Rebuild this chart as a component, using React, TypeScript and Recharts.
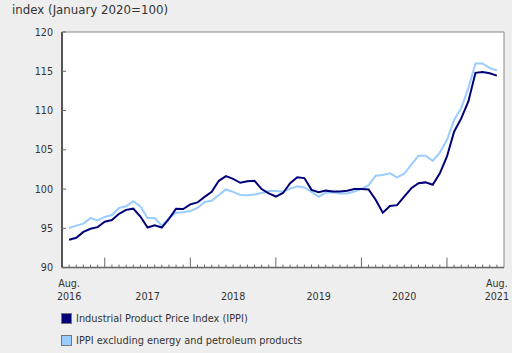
import { LineChart, Line, XAxis, YAxis, ReferenceArea } from "recharts";

// monthly index values, Aug 2016 .. Aug 2021 (January 2020 = 100)
const ippi = [
  93.55, 93.8, 94.55, 94.95, 95.15, 95.85, 96.05, 96.85, 97.35, 97.5,
  96.5, 95.1, 95.4, 95.1, 96.2, 97.5, 97.45, 98.05, 98.3, 99.0,
  99.65, 101.05, 101.65, 101.3, 100.8, 101.0, 101.05, 100.0, 99.45, 99.05,
  99.5, 100.75, 101.5, 101.4, 99.9, 99.6, 99.8, 99.7, 99.7, 99.8,
  100.0, 100.0, 99.95, 98.65, 97.0, 97.85, 97.95, 99.05, 100.1, 100.75,
  100.85, 100.55, 102.0, 104.15, 107.3, 109.0, 111.15, 114.8, 114.9, 114.75,
  114.45,
];

const ippiExEnergy = [
  95.05, 95.35, 95.6, 96.3, 96.0, 96.45, 96.7, 97.6, 97.8, 98.45,
  97.8, 96.3, 96.3, 95.35, 96.3, 97.0, 97.05, 97.2, 97.6, 98.35,
  98.5, 99.25, 99.95, 99.65, 99.25, 99.2, 99.3, 99.5, 99.75, 99.75,
  99.65, 100.05, 100.35, 100.2, 99.65, 99.0, 99.55, 99.55, 99.45, 99.45,
  99.7, 100.0, 100.5, 101.7, 101.8, 102.0, 101.5, 101.95, 103.1, 104.25,
  104.25, 103.6, 104.65, 106.25, 108.8, 110.3, 112.85, 116.0, 116.0, 115.4,
  115.1,
];

const yTicks = [90, 95, 100, 105, 110, 115, 120];
// month indexes of each January (major ticks)
const januaries = [5, 17, 29, 41, 53];
// x labels: month index -> text
const xLabels = [
  { idx: 0, top: "Aug.", year: "2016" },
  { idx: 11, top: "", year: "2017" },
  { idx: 23, top: "", year: "2018" },
  { idx: 35, top: "", year: "2019" },
  { idx: 47, top: "", year: "2020" },
  { idx: 60, top: "Aug.", year: "2021" },
];

const series = [
  { key: "ippi", name: "Industrial Product Price Index (IPPI)", color: "#000078" },
  { key: "core", name: "IPPI excluding energy and petroleum products", color: "#99ccff" },
];

const data = ippi.map((v, i) => ({ m: i, ippi: v, core: ippiExEnergy[i] }));
const xTicks = data.map((d) => d.m);

const FONT = "'DejaVu Sans', Verdana, sans-serif";
const TEXT = "#333333";

const XTick = (props: any) => {
  const { x, y, payload } = props;
  const i = payload.value;
  const lab = xLabels.find((l) => l.idx === i);
  const len = januaries.includes(i) ? 10 : 3;
  return (
    <g>
      <line x1={x} x2={x} y1={y} y2={y - len} stroke="#666" strokeWidth={1} />
      {lab && lab.top && (
        <text x={x} y={y + 19} textAnchor="middle" fontSize={9.6} fill={TEXT} fontFamily={FONT}>
          {lab.top}
        </text>
      )}
      {lab && (
        <text x={x} y={y + 32.5} textAnchor="middle" fontSize={9.6} fill={TEXT} fontFamily={FONT}>
          {lab.year}
        </text>
      )}
    </g>
  );
};

const YTick = (props: any) => {
  const { x, y, payload } = props;
  return (
    <g>
      <line x1={x} x2={x + 4} y1={y} y2={y} stroke="#666" strokeWidth={1} />
      <text x={x - 9} y={y + 3.5} textAnchor="end" fontSize={9.6} fill={TEXT} fontFamily={FONT}>
        {payload.value}
      </text>
    </g>
  );
};

export default function App() {
  return (
    <div
      style={{
        position: "absolute",
        left: 0,
        top: 0,
        width: 512,
        height: 353,
        background: "#eeeeee",
        fontFamily: FONT,
        color: TEXT,
        overflow: "hidden",
      }}
    >
      <div style={{ position: "absolute", left: 12, top: 2, fontSize: 11.8, lineHeight: "16px" }}>
        index (January 2020=100)
      </div>
      <LineChart
        width={512}
        height={353}
        data={data}
        margin={{ top: 32, right: 8, left: 0, bottom: 45.4 }}
      >
        <ReferenceArea x1={-1} x2={61} y1={90} y2={120} fill="#ffffff" fillOpacity={1} stroke="#888" strokeWidth={1} />
        <XAxis
          dataKey="m"
          type="number"
          domain={[-1, 61]}
          ticks={xTicks}
          interval={0}
          height={40}
          tickSize={0}
          tickMargin={0}
          tickLine={false}
          axisLine={{ stroke: "#666", strokeWidth: 1.5 }}
          tick={<XTick />}
        />
        <YAxis
          domain={[90, 120]}
          ticks={yTicks}
          width={62}
          tickSize={0}
          tickMargin={0}
          tickLine={false}
          axisLine={{ stroke: "#555", strokeWidth: 2 }}
          tick={<YTick />}
        />
        <Line
          dataKey="core"
          stroke={series[1].color}
          strokeWidth={2}
          dot={false}
          type="linear"
          isAnimationActive={false}
        />
        <Line
          dataKey="ippi"
          stroke={series[0].color}
          strokeWidth={2}
          dot={false}
          type="linear"
          isAnimationActive={false}
        />
      </LineChart>
      {series.map((s, k) => (
        <div
          key={s.key}
          style={{
            position: "absolute",
            left: 61,
            top: 313 + k * 22,
            height: 11,
            display: "flex",
            alignItems: "center",
            fontSize: 9.8,
            whiteSpace: "nowrap",
          }}
        >
          <span
            style={{
              display: "inline-block",
              width: 9,
              height: 9,
              background: s.color,
              border: "1px solid #777",
              marginRight: 4,
            }}
          />
          {s.name}
        </div>
      ))}
    </div>
  );
}
